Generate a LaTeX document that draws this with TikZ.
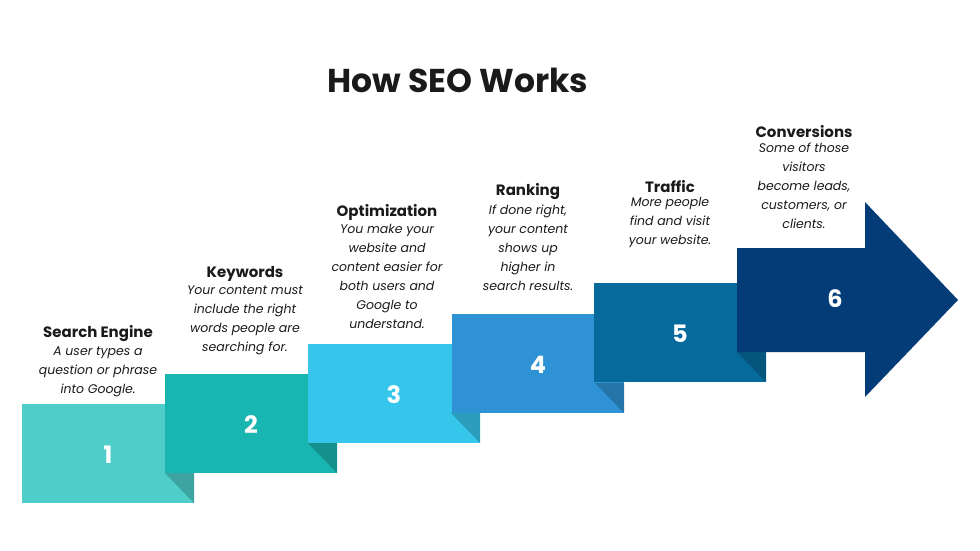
\documentclass[tikz,border=0pt]{standalone}
\usepackage{fontspec}
\setmainfont{Poppins}
\usetikzlibrary{positioning}
\definecolor{stepA}{HTML}{4ECDC9}
\definecolor{stepB}{HTML}{19B5B0}
\definecolor{stepC}{HTML}{36C6EC}
\definecolor{stepD}{HTML}{2E92D4}
\definecolor{stepE}{HTML}{066A9C}
\definecolor{stepF}{HTML}{043C78}
\definecolor{title}{HTML}{1A1A1A}
\tikzset{
  head/.style={font=\bfseries\fontsize{15}{18}\selectfont, text=title, inner sep=0pt},
  desc/.style={font=\itshape\fontsize{12.5}{19}\selectfont, text=title, align=center, inner sep=0pt},
  num/.style={font=\bfseries\fontsize{24}{24}\selectfont, text=white},
}
\begin{document}
\begin{tikzpicture}[x=1pt,y=-1pt]
\useasboundingbox (0,0) rectangle (980,551);

\node[font=\bfseries\fontsize{33}{36}\selectfont, text=title] (title) at (458,80) {How SEO Works};

% steps: left, top, colour, shadow colour
\foreach \l/\t/\c/\n in {22/404/stepA/1, 165/374/stepB/2, 308/344/stepC/3, 452/314/stepD/4, 594/283/stepE/5}{
  \fill[\c] (\l,\t) rectangle ++(172,99);
  \fill[\c!80!black] (\l+143,\t+69) -- (\l+172,\t+69) -- (\l+172,\t+99) -- cycle;
  \node[num] (n\n) at (\l+86,\t+51) {\n};
}
\fill[stepF] (737,248) -- (865,248) -- (865,202) -- (958,300) -- (865,397)
  -- (865,352) -- (737,352) -- cycle;
\node[num] (n6) at (835,299) {6};

% labels
\node[head] (h1) at (98,334) {Search Engine};
\node[desc, below=4pt of h1] (d1) {A user types a\\question or phrase\\into Google.};
\node[head] (h2) at (245,274) {Keywords};
\node[desc, below=4pt of h2] (d2) {Your content must\\include the right\\words people are\\searching for.};
\node[head] (h3) at (387,212) {Optimization};
\node[desc, below=4pt of h3] (d3) {You make your\\website and\\content easier for\\both users and\\Google to\\understand.};
\node[head] (h4) at (528,192) {Ranking};
\node[desc, below=4pt of h4] (d4) {If done right,\\your content\\shows up\\higher in\\search results.};
\node[head] (h5) at (670,187) {Traffic};
\node[desc, below=4pt of h5] (d5) {More people\\find and visit\\your website.};
\node[head] (h6) at (804,132) {Conversions};
\node[desc, below=4pt of h6] (d6) {Some of those\\visitors\\become leads,\\customers, or\\clients.};

\end{tikzpicture}
\end{document}
